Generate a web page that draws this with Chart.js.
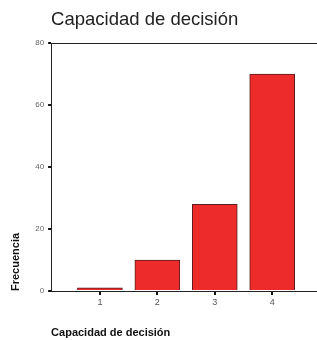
<!DOCTYPE html>
<html>
<head>
<meta charset="utf-8">
<script src="https://cdn.jsdelivr.net/npm/chart.js@4/dist/chart.umd.min.js"></script>
<style>
  html, body { margin: 0; padding: 0; background: #fff; }
  #wrap { width: 317px; height: 340px; }
</style>
</head>
<body>
<div id="wrap"><canvas id="barChart"></canvas></div>
<script>
// valores
var categorias = [1, 2, 3, 4];
var frecuencias = [1, 10, 28, 70];
var ticksY = [0, 20, 40, 60, 80];

var puntos = categorias.map(function (c, i) { return { x: c, y: frecuencias[i] }; });

var ctx = document.getElementById('barChart');
var barChart = new Chart(ctx, {
  type: 'bar',
  data: {
    datasets: [{
      label: 'Frecuencia',
      data: puntos,
      backgroundColor: '#ee2b2b',
      borderColor: '#5a1c1c',
      borderWidth: 1,
      barThickness: 45
    }]
  },
  options: {
    responsive: true,
    maintainAspectRatio: false,
    animation: false,
    layout: { padding: { left: 9, right: 0, top: 9, bottom: 0 } },
    plugins: {
      legend: { display: false },
      tooltip: { enabled: false },
      title: {
        display: true,
        text: 'Capacidad de decisión',
        align: 'start',
        fullSize: false,
        color: '#222',
        font: { family: 'Liberation Sans', size: 18.5, weight: 'normal' },
        padding: { top: 0, bottom: 4 }
      }
    },
    scales: {
      x: {
        type: 'linear',
        min: 0.15,
        max: 4.78,
        offset: false,
        afterBuildTicks: function (axis) {
          axis.ticks = categorias.map(function (c) { return { value: c }; });
        },
        border: { display: true, color: '#222', width: 1 },
        grid: { drawOnChartArea: false, offset: false, tickLength: 4, color: '#111', lineWidth: 2 },
        ticks: {
          color: '#555',
          font: { family: 'Liberation Sans', size: 9 },
          padding: 2
        },
        title: {
          display: true,
          text: 'Capacidad de decisión',
          align: 'start',
          color: '#111',
          font: { family: 'Liberation Sans', size: 11, weight: 'bold' },
          padding: { top: 17, bottom: 0 }
        }
      },
      x2: {
        type: 'linear',
        position: 'top',
        min: 0,
        max: 1,
        offset: false,
        border: { display: true, color: '#222', width: 1 },
        grid: { display: false },
        ticks: { display: false }
      },
      y: {
        min: 0,
        max: 80,
        afterBuildTicks: function (axis) {
          axis.ticks = ticksY.map(function (v) { return { value: v }; });
        },
        border: { display: true, color: '#222', width: 1 },
        grid: { drawOnChartArea: false, tickLength: 3, color: '#111', lineWidth: 2 },
        ticks: {
          color: '#666',
          font: { family: 'Liberation Sans', size: 8 },
          padding: 4
        },
        title: {
          display: true,
          text: 'Frecuencia',
          align: 'start',
          color: '#111',
          font: { family: 'Liberation Sans', size: 11, weight: 'bold' },
          padding: { top: 0, bottom: 9 }
        }
      }
    }
  }
});
</script>
</body>
</html>
